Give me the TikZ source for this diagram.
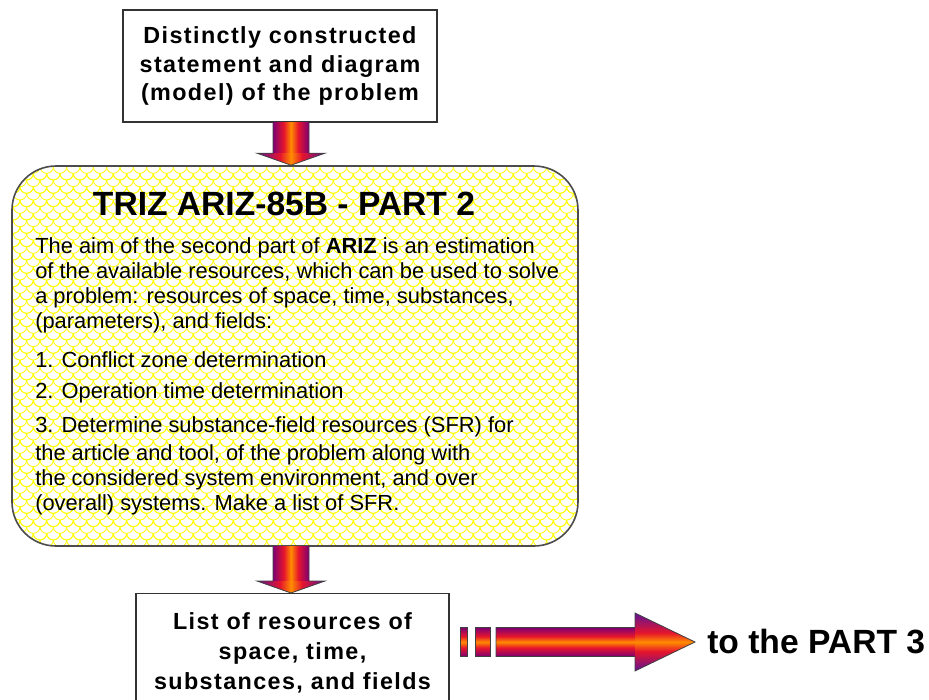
\documentclass[tikz,border=0pt]{standalone}
\usepackage{fontspec}
\setmainfont{Liberation Sans}
\newfontfamily\boxfont[LetterSpace=6]{Liberation Sans Bold}
\usetikzlibrary{calc,patterns}

% fish-scale fill of the main block
\pgfdeclarepatternformonly{scales}{\pgfqpoint{-5pt}{-1pt}}{\pgfqpoint{15pt}{11pt}}{\pgfqpoint{10pt}{10pt}}{
    \pgfsetlinewidth{0.6pt}
    \pgfpathmoveto{\pgfqpoint{0pt}{10pt}}
    \pgfpatharc{180}{360}{5pt}
    \pgfpathmoveto{\pgfqpoint{-5pt}{5pt}}
    \pgfpatharc{180}{360}{5pt}
    \pgfpathmoveto{\pgfqpoint{5pt}{5pt}}
    \pgfpatharc{180}{360}{5pt}
    \pgfusepath{stroke}
}

% colours of the block arrows
\definecolor{flowedge}{RGB}{125,0,115}
\definecolor{flowmid}{RGB}{230,20,45}
\definecolor{flowcore}{RGB}{255,140,0}
\definecolor{flowwing}{RGB}{95,20,150}
\pgfdeclarehorizontalshading{flow}{100bp}{color(0bp)=(flowedge); color(25bp)=(flowedge); color(40bp)=(flowmid); color(50bp)=(flowcore); color(60bp)=(flowmid); color(75bp)=(flowedge); color(100bp)=(flowedge)}
\pgfdeclarehorizontalshading{flowhead}{100bp}{color(0bp)=(flowwing); color(25bp)=(flowwing); color(42bp)=(flowmid); color(50bp)=(flowcore); color(58bp)=(flowmid); color(75bp)=(flowwing); color(100bp)=(flowwing)}

\tikzset{
    plainbox/.style={draw=black!80, line width=0.8pt, fill=white, align=center, inner sep=0pt,
        font=\boxfont\fontsize{17.5}{21.4}\selectfont},
    scalebox/.style={draw=black!70, line width=1.2pt, rounded corners=33pt,
        preaction={fill=white}, pattern=scales, pattern color=yellow},
    bodytext/.style={inner sep=0pt, font=\fontsize{16.4}{18.75}\selectfont},
    titletext/.style={inner sep=0pt, font=\bfseries\fontsize{25.2}{28}\selectfont},
    shaft/.style={shading=flow},
    head/.style={shading=flowhead},
    rim/.style={draw=black!75, line width=0.6pt, line join=miter}
}

\begin{document}
\begin{tikzpicture}[x=0.75pt, y=-0.75pt]
    \useasboundingbox (0,0) rectangle (929,700);

    % boxes
    \node[plainbox, minimum width=235.5pt, minimum height=84pt] (stmt) at (280,66)
        {Distinctly constructed\\statement and diagram\\(model) of the problem};
    \node[scalebox, minimum width=424.5pt, minimum height=285pt] (ariz) at (295,356) {};
    \node[plainbox, anchor=north, minimum width=234.75pt, minimum height=89pt,
        font=\boxfont\fontsize{17.5}{22.5}\selectfont] (list) at (292.5,593)
        {List of resources of\\space, time,\\substances, and fields};

    % text of the main block
    \node[titletext, anchor=base] (title) at (284,215) {TRIZ ARIZ-85B - PART 2};
    \foreach \y/\txt [count=\i] in {
        253/{The aim of the second part of \textbf{ARIZ} is an estimation},
        278/{of the available resources, which can be used to solve},
        303/{a problem: resources of space, time, substances,},
        328/{(parameters), and fields:},
        367/{1. Conflict zone determination},
        398/{2. Operation time determination},
        432/{3. Determine substance-field resources (SFR) for},
        460/{the article and tool, of the problem along with},
        485/{the considered system environment, and over},
        510/{(overall) systems. Make a list of SFR.}} {
        \node[bodytext, anchor=base west] (line\i) at (35,\y) {\txt};
    }

    % down arrows
    \coordinate (a1) at ($(stmt.south)+(11,0)$);
    \coordinate (t1) at (a1 |- ariz.north);
    \coordinate (a2) at ($(ariz.south)+(-4,0)$);
    \coordinate (t2) at (a2 |- list.north);
    \foreach \a/\t in {a1/t1, a2/t2} {
        \path[shaft] ($(\a)+(-18,0)$) rectangle ($(\t)+(18,-12)$);
        \path[head] ($(\t)+(-34,-12)$) -- ($(\t)+(34,-12)$) -- (\t) -- cycle;
        \draw[rim] ($(\a)+(-18,0)$) -- ($(\t)+(-18,-12)$) -- ($(\t)+(-34,-12)$) -- (\t)
            -- ($(\t)+(34,-12)$) -- ($(\t)+(18,-12)$) -- ($(\a)+(18,0)$);
    }

    % arrow to the next part
    \node[titletext, anchor=base west] (next) at (707,653) {to the PART 3};
    \coordinate (go) at (460,642);
    \coordinate (tip) at ($(next.west |- go)+(-12,0)$);
    \foreach \l/\r in {0/7, 15/30} {
        \path[shaft, shading angle=90] ($(go)+(\l,-14.5)$) rectangle ($(go)+(\r,14.5)$);
        \draw[rim] ($(go)+(\l,-14.5)$) rectangle ($(go)+(\r,14.5)$);
    }
    \path[shaft, shading angle=90] ($(go)+(36,-14.5)$) rectangle ($(tip)+(-60,14.5)$);
    \path[head, shading angle=90] ($(tip)+(-60,-29)$) -- (tip) -- ($(tip)+(-60,29)$) -- cycle;
    \draw[rim] ($(go)+(36,-14.5)$) -- ($(tip)+(-60,-14.5)$) -- ($(tip)+(-60,-29)$) -- (tip)
        -- ($(tip)+(-60,29)$) -- ($(tip)+(-60,14.5)$) -- ($(go)+(36,14.5)$) -- cycle;
\end{tikzpicture}
\end{document}
